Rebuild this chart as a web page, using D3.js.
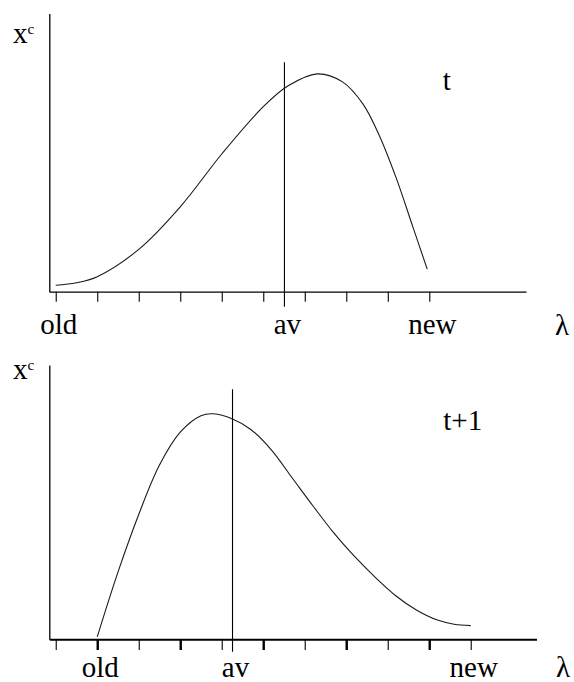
<!DOCTYPE html>
<html>
<head>
<meta charset="utf-8">
<script src="https://cdn.jsdelivr.net/npm/d3@7"></script>
<style>
  body { margin: 0; background: #fff; }
  svg { display: block; }
</style>
</head>
<body>
<svg id="chart" width="574" height="682"></svg>
<script>
// Technology index λ (tick units) and share x^c, period t
const lambdaT = [0, 0.5, 1, 2, 3, 4, 5, 5.6, 6.3, 6.9, 7.4, 7.8, 8.2, 8.6, 8.95];
const xcT = [2.3, 3.2, 5.4, 15.2, 30.5, 49.5, 66.5, 74.0, 78.3, 75.5, 67.5, 56.0, 41.0, 23.5, 8.1];

// Period t+1
const lambdaT1 = [1.0, 1.5, 2.0, 2.5, 3.0, 3.5, 3.8, 4.26, 4.7, 5.2, 5.7, 6.2, 6.7, 7.2, 7.7,
                  8.2, 8.7, 9.2, 9.6, 10.0];
const xcT1 = [0.9, 24.5, 45.5, 63.5, 75.5, 81.5, 82.2, 80.3, 76.5, 69.0, 58.8, 48.6, 38.8,
              30.2, 22.6, 15.8, 10.6, 7.0, 5.5, 5.0];

// Axis ticks and labels
const ticksT = [0, 1, 2, 3, 4, 5, 6, 7, 8, 9];
const ticksT1 = [0, 1, 2, 3, 4, 5, 6, 7, 8, 9, 10];
const boldTicksT1 = [1, 3, 5, 7, 9];
const labelNames = ["old", "av", "new"];
const labelPosT = [0, 5.51, 9];
const labelPosT1 = [1, 4.26, 10];
const avLineTopT = 82.5;
const avLineTopT1 = 91.2;

const svg = d3.select("#chart");
const serif = '"Liberation Serif", "DejaVu Serif", "Times New Roman", Times, serif';

const panels = [
  {
    lambda: lambdaT, xc: xcT, ticks: ticksT, bold: [], labelPos: labelPosT,
    avTop: avLineTopT, title: "t",
    xDomain: [-0.155, 11.33], xRange: [49.3, 526],
    yRange: [291.7, 13.5], xAxisWidth: 1.3, tickLen: 10, avBelow: 15,
    titlePos: [442.7, 90], xcPos: [13, 43.3], lambdaPos: [555, 335], labelBase: 334
  },
  {
    lambda: lambdaT1, xc: xcT1, ticks: ticksT1, bold: boldTicksT1, labelPos: labelPosT1,
    avTop: avLineTopT1, title: "t+1",
    xDomain: [-0.155, 11.585], xRange: [49.3, 536.5],
    yRange: [639.3, 365], xAxisWidth: 2, tickLen: 10.7, avBelow: 12.5,
    titlePos: [443.3, 430], xcPos: [13, 379], lambdaPos: [556, 677], labelBase: 677
  }
];

function label(g, x, y, size, str) {
  return g.append("text")
    .attr("x", x).attr("y", y)
    .attr("fill", "#000")
    .style("font-family", serif)
    .style("font-size", size + "px")
    .text(str);
}

panels.forEach(p => {
  const x = d3.scaleLinear().domain(p.xDomain).range(p.xRange);
  const y = d3.scaleLinear().domain([0, 100]).range(p.yRange);
  const g = svg.append("g");

  // horizontal λ axis
  const xAxis = g.append("g")
    .attr("transform", `translate(0,${y(0)})`)
    .call(d3.axisBottom(x).tickValues(p.ticks).tickSize(p.tickLen)
      .tickSizeOuter(0).tickFormat(""));
  xAxis.select(".domain").attr("stroke", "#000").attr("stroke-width", p.xAxisWidth);
  xAxis.selectAll(".tick line")
    .attr("stroke", "#000")
    .attr("stroke-width", d => p.bold.includes(d) ? 2.4 : 1.1);

  // vertical x^c axis
  const yAxis = g.append("g")
    .attr("transform", `translate(${x(p.xDomain[0])},0)`)
    .call(d3.axisLeft(y).tickValues([]).tickSizeOuter(0));
  yAxis.select(".domain").attr("stroke", "#000").attr("stroke-width", 1.3);

  // average technology marker
  g.append("line")
    .attr("x1", x(p.labelPos[1])).attr("x2", x(p.labelPos[1]))
    .attr("y1", y(p.avTop)).attr("y2", y(0) + p.avBelow)
    .attr("stroke", "#000").attr("stroke-width", 1.1);

  // distribution curve
  const line = d3.line()
    .x((d, i) => x(p.lambda[i]))
    .y(d => y(d))
    .curve(d3.curveCatmullRom.alpha(0.5));
  g.append("path")
    .datum(p.xc)
    .attr("d", line)
    .attr("fill", "none")
    .attr("stroke", "#1a1a1a")
    .attr("stroke-width", 1.1);

  // axis labels
  labelNames.forEach((name, i) => {
    label(g, x(p.labelPos[i]) + 3, p.labelBase, 29, name).attr("text-anchor", "middle");
  });
  label(g, p.lambdaPos[0], p.lambdaPos[1], 29, "λ");

  const xc = label(g, p.xcPos[0], p.xcPos[1], 29, "x");
  xc.append("tspan")
    .attr("dy", -9.5)
    .style("font-size", "15px")
    .text("c");

  label(g, p.titlePos[0], p.titlePos[1], 29, p.title);
});
</script>
</body>
</html>
